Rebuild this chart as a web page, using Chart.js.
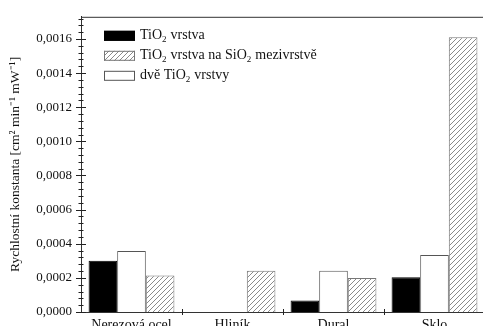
<!DOCTYPE html>
<html><head><meta charset="utf-8">
<script src="https://cdn.jsdelivr.net/npm/chart.js@4.4.1/dist/chart.umd.min.js"></script>
<style>
html,body{margin:0;padding:0;background:#fff;overflow:hidden;}
#wrap{width:483px;height:326px;overflow:hidden;position:relative;}
canvas{display:block;}
</style></head>
<body><div id="wrap"><canvas id="c" width="490" height="342"></canvas></div>
<script>
const categories = ['Nerezová ocel', 'Hliník', 'Dural', 'Sklo'];
const tio2Vrstva = [0.000300, null, 0.000068, 0.000203];
const dveVrstvy = [0.000358, null, 0.000242, 0.000334];
const naSiO2 = [0.000214, 0.000242, 0.000199, 0.00161];
const seriesLabels = ['TiO₂ vrstva', 'dvě TiO₂ vrstvy', 'TiO₂ vrstva na SiO₂ mezivrstvě'];
const legendOrder = [0, 2, 1];
const yTickValues = [0, 0.0002, 0.0004, 0.0006, 0.0008, 0.0010, 0.0012, 0.0014, 0.0016];
const yMax = 0.00173;
const yMinorStep = 0.00004;
const yTitle = 'Rychlostní konstanta [cm² min⁻¹ mW⁻¹]';

function makeHatch() {
  const s = 5;
  const c = document.createElement('canvas');
  c.width = s; c.height = s;
  const g = c.getContext('2d');
  g.fillStyle = '#fff'; g.fillRect(0, 0, s, s);
  g.strokeStyle = '#8a8a8a'; g.lineWidth = 1;
  g.beginPath();
  g.moveTo(-1, s + 1); g.lineTo(s + 1, -1);
  g.moveTo(-1, 1); g.lineTo(1, -1);
  g.moveTo(s - 1, s + 1); g.lineTo(s + 1, s - 1);
  g.stroke();
  return g.createPattern(c, 'repeat');
}
const hatch = makeHatch();
const FONT = "'Liberation Serif', 'Times New Roman', serif";

const frameAndTicks = {
  id: 'frameAndTicks',
  afterDraw(chart) {
    const ctx = chart.ctx, a = chart.chartArea;
    const y = chart.scales.y, x = chart.scales.x;
    ctx.save();
    ctx.strokeStyle = '#333'; ctx.lineWidth = 1;
    ctx.strokeRect(a.left + 0.5, a.top + 0.5, a.right - a.left, a.bottom - a.top);
    ctx.strokeStyle = '#222';
    ctx.beginPath();
    const n = Math.floor(yMax / yMinorStep + 1e-6);
    for (let i = 0; i <= n; i++) {
      const v = i * yMinorStep;
      const py = Math.round(y.getPixelForValue(v)) + 0.5;
      const major = i % 5 === 0;
      const L = major ? 5 : 2.5;
      ctx.moveTo(a.left - L, py); ctx.lineTo(a.left + L, py);
    }
    const half = (x.getPixelForValue(1) - x.getPixelForValue(0)) / 2;
    for (let i = 0; i < categories.length; i++) {
      const px = Math.round(x.getPixelForValue(i) + half) + 0.5;
      ctx.moveTo(px, a.bottom - 3); ctx.lineTo(px, a.bottom + 3);
    }
    ctx.stroke();

    // legend
    const ds = chart.data.datasets;
    const bx = a.left + 23, bw = 31, bh = 10;
    legendOrder.forEach((di, k) => {
      const cy = a.top + 19 + k * 20;
      const d = ds[di];
      ctx.fillStyle = d.backgroundColor;
      ctx.fillRect(bx, cy - bh / 2, bw, bh);
      ctx.strokeStyle = d.borderColor; ctx.lineWidth = 1;
      ctx.strokeRect(bx + 0.5, cy - bh / 2 + 0.5, bw - 1, bh - 1);
      ctx.fillStyle = '#111';
      ctx.textBaseline = 'middle';
      let tx = bx + bw + 5;
      const parts = d.label.split('₂');
      parts.forEach((p, j) => {
        ctx.font = '14px ' + FONT;
        ctx.fillText(p, tx, cy);
        tx += ctx.measureText(p).width;
        if (j < parts.length - 1) {
          ctx.font = '9px ' + FONT;
          ctx.fillText('2', tx, cy + 4);
          tx += ctx.measureText('2').width + 0.5;
        }
      });
    });
    ctx.restore();
  }
};

new Chart(document.getElementById('c'), {
  type: 'bar',
  data: {
    labels: categories,
    datasets: [
      { label: seriesLabels[0], data: tio2Vrstva, backgroundColor: '#000', borderColor: '#000', borderWidth: 1 },
      { label: seriesLabels[1], data: dveVrstvy, backgroundColor: '#fff', borderColor: '#555', borderWidth: 1 },
      { label: seriesLabels[2], data: naSiO2, backgroundColor: hatch, borderColor: '#777', borderWidth: 1 }
    ]
  },
  options: {
    responsive: false,
    animation: false,
    layout: { padding: { top: 12, right: 5, left: 0, bottom: 0 } },
    plugins: { legend: { display: false }, tooltip: { enabled: false } },
    datasets: { bar: { barPercentage: 1, categoryPercentage: 0.85 } },
    scales: {
      x: {
        grid: { display: false, drawTicks: false },
        border: { display: true, color: '#222' },
        ticks: { color: '#111', font: { family: FONT, size: 14 }, padding: 5, maxRotation: 0, autoSkip: false },
        afterFit(s) { s.height = 30; }
      },
      y: {
        min: 0, max: yMax,
        grid: { display: false, drawTicks: false },
        border: { display: true, color: '#222' },
        afterBuildTicks(s) { s.ticks = yTickValues.map(v => ({ value: v })); },
        ticks: {
          color: '#111', padding: 9,
          font: { family: FONT, size: 13 },
          callback: v => v.toFixed(4).replace('.', ',')
        },
        title: { display: true, text: yTitle, color: '#111', font: { family: FONT, size: 13.5 }, padding: { top: 7, bottom: 0 } },
        afterFit(s) { s.width = 81; }
      }
    }
  },
  plugins: [frameAndTicks]
});
</script></body></html>
